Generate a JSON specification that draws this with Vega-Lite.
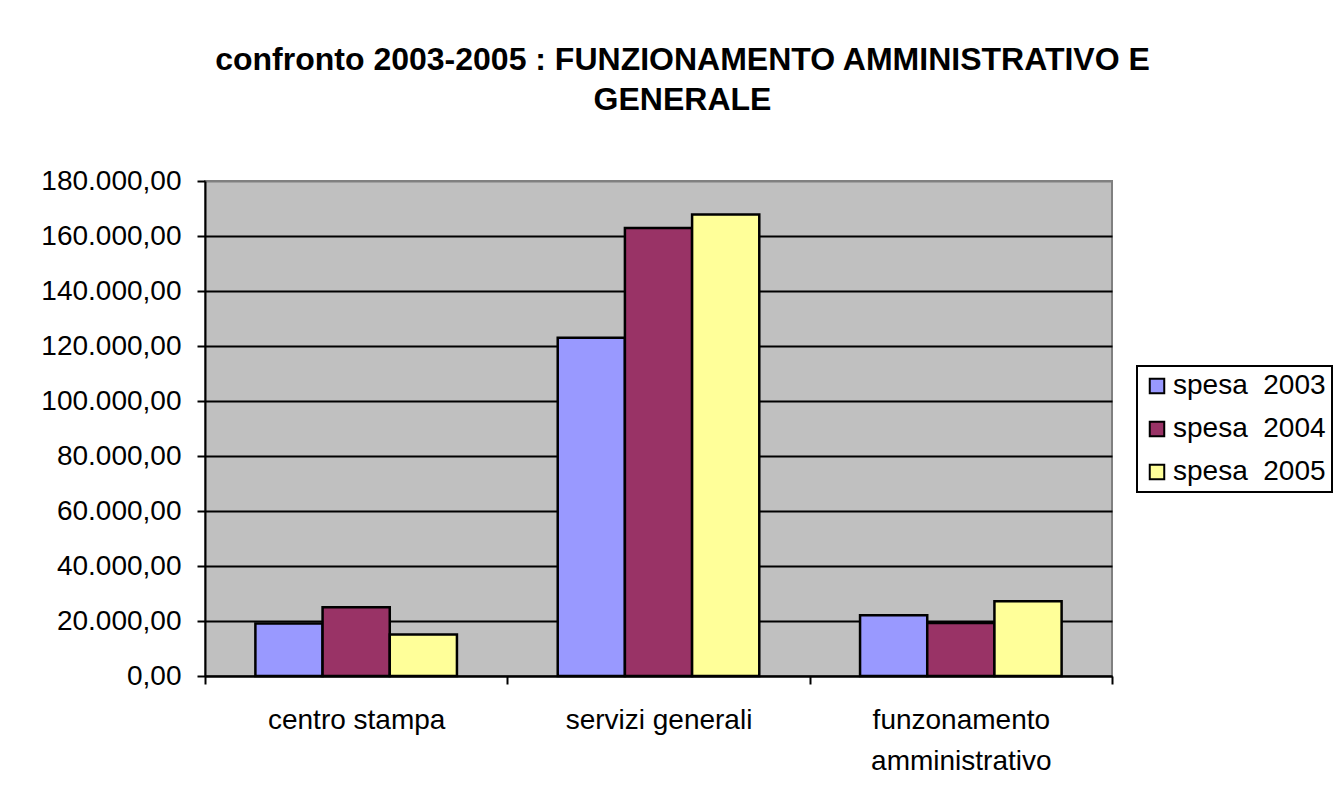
{
  "$schema": "https://vega.github.io/schema/vega-lite/v6.json",
  "width": 907,
  "height": 495,
  "padding": {"left": 40, "top": 44, "right": 0, "bottom": 10},
  "background": "white",
  "title": {
    "text": ["confronto 2003-2005 : FUNZIONAMENTO AMMINISTRATIVO E", "GENERALE"],
    "font": "Liberation Sans",
    "fontSize": 32,
    "fontWeight": "bold",
    "lineHeight": 40,
    "color": "black",
    "anchor": "middle",
    "dx": 24,
    "offset": 50
  },
  "data": {
    "values": [
      {"categoria": "centro stampa", "anno": "spesa  2003", "spesa": 19100},
      {"categoria": "centro stampa", "anno": "spesa  2004", "spesa": 25000},
      {"categoria": "centro stampa", "anno": "spesa  2005", "spesa": 15100},
      {"categoria": "servizi generali", "anno": "spesa  2003", "spesa": 123000},
      {"categoria": "servizi generali", "anno": "spesa  2004", "spesa": 162900},
      {"categoria": "servizi generali", "anno": "spesa  2005", "spesa": 167800},
      {"categoria": "funzonamento amministrativo", "anno": "spesa  2003", "spesa": 22100},
      {"categoria": "funzonamento amministrativo", "anno": "spesa  2004", "spesa": 19300},
      {"categoria": "funzonamento amministrativo", "anno": "spesa  2005", "spesa": 27200}
    ]
  },
  "mark": {"type": "bar", "stroke": "black", "strokeWidth": 2.5},
  "encoding": {
    "x": {
      "field": "categoria",
      "type": "nominal",
      "sort": ["centro stampa", "servizi generali", "funzonamento amministrativo"],
      "scale": {"paddingInner": 0, "paddingOuter": 0},
      "axis": {
        "title": null,
        "labelAngle": 0,
        "labelFont": "Liberation Sans",
        "labelFontSize": 28,
        "labelColor": "black",
        "labelPadding": 22,
        "labelLineHeight": 41,
        "labelLimit": 500,
        "labelExpr": "datum.value == 'funzonamento amministrativo' ? ['funzonamento', 'amministrativo'] : datum.value",
        "domainColor": "black",
        "domainWidth": 2,
        "tickColor": "black",
        "tickWidth": 2,
        "tickSize": 8,
        "tickBand": "extent",
        "grid": false
      }
    },
    "xOffset": {
      "field": "anno",
      "type": "nominal",
      "sort": ["spesa  2003", "spesa  2004", "spesa  2005"],
      "scale": {"paddingInner": 0, "paddingOuter": 0.75}
    },
    "y": {
      "field": "spesa",
      "type": "quantitative",
      "scale": {"domain": [0, 180000], "nice": false},
      "axis": {
        "title": null,
        "values": [0, 20000, 40000, 60000, 80000, 100000, 120000, 140000, 160000, 180000],
        "format": ",.2f",
        "labelFont": "Liberation Sans",
        "labelFontSize": 28,
        "labelColor": "black",
        "labelPadding": 16,
        "labelLimit": 500,
        "domainColor": "black",
        "domainWidth": 2,
        "tickColor": "black",
        "tickWidth": 2,
        "tickSize": 8,
        "grid": true,
        "gridColor": {"condition": {"test": "datum.value == 180000", "value": "#808080"}, "value": "black"},
        "gridWidth": 2
      }
    },
    "color": {
      "field": "anno",
      "type": "nominal",
      "sort": ["spesa  2003", "spesa  2004", "spesa  2005"],
      "scale": {"domain": ["spesa  2003", "spesa  2004", "spesa  2005"], "range": ["#9999FF", "#993366", "#FFFF99"]},
      "legend": {
        "title": null,
        "orient": "none",
        "legendX": 932,
        "legendY": 185,
        "symbolType": "square",
        "symbolSize": 210,
        "symbolStrokeColor": "black",
        "symbolStrokeWidth": 2,
        "symbolOpacity": 1,
        "labelFont": "Liberation Sans",
        "labelFontSize": 28,
        "labelColor": "black",
        "labelOffset": 2,
        "labelLimit": 500,
        "labelExpr": "replace(datum.label, '  ', '\u00a0\u00a0')",
        "rowPadding": 15,
        "strokeColor": "black",
        "padding": 6,
        "fillColor": "white"
      }
    }
  },
  "config": {
    "locale": {"number": {"decimal": ",", "thousands": ".", "grouping": [3], "currency": ["€", ""]}},
    "view": {"fill": "#C0C0C0", "stroke": "#808080", "strokeWidth": 2},
    "legend": {"strokeWidth": 2}
  }
}
